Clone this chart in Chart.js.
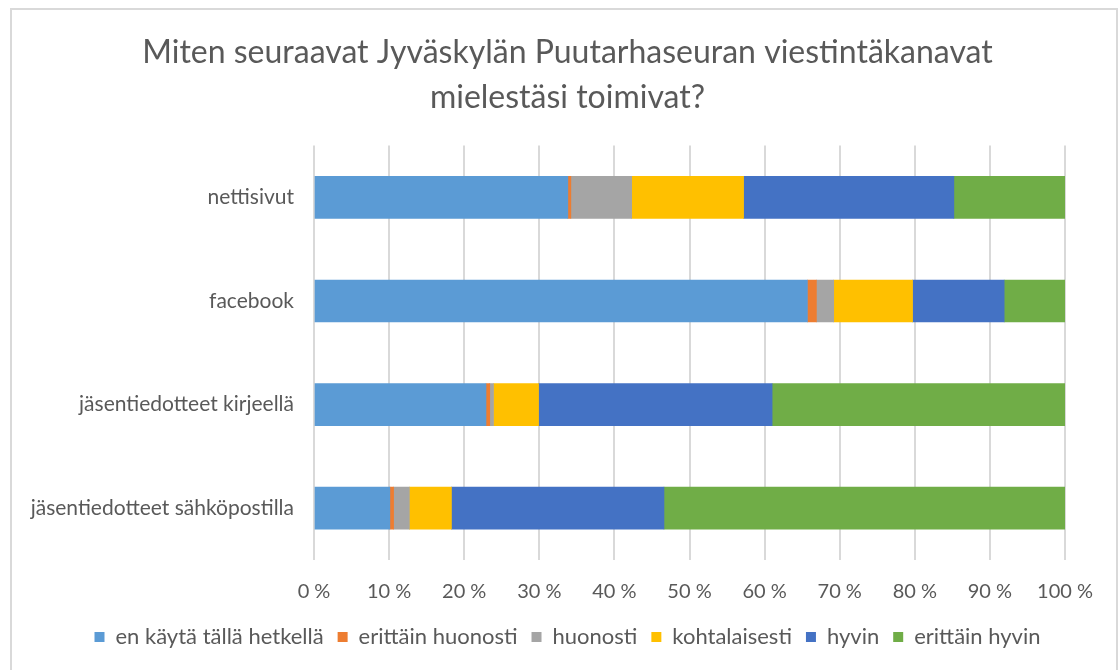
<!DOCTYPE html>
<html>
<head>
<meta charset="utf-8">
<script src="https://cdn.jsdelivr.net/npm/chart.js@4"></script>
<style>
  html, body { margin: 0; padding: 0; background: #fff; }
  #frame {
    position: absolute; left: 10px; top: 8px; width: 1108px; height: 680px;
    border: 2px solid #d9d9d9; border-bottom: none; box-sizing: border-box;
  }
  #wrap { position: absolute; left: 0; top: 0; width: 1120px; height: 670px; }
</style>
</head>
<body>
<div id="frame"></div>
<div id="wrap"><canvas id="chart"></canvas></div>
<script>
// channels, top to bottom
const channels = ['nettisivut', 'facebook', 'jäsentiedotteet kirjeellä', 'jäsentiedotteet sähköpostilla'];

// share of answers (%) per rating, same order as channels
const enKayta       = [33.8, 65.7, 22.9, 10.1];
const erittHuono    = [0.4, 1.2, 0.5, 0.5];
const huonosti      = [8.1, 2.3, 0.5, 2.1];
const kohtalaisesti = [14.9, 10.5, 6.0, 5.6];
const hyvin         = [28.0, 12.2, 31.1, 28.3];
const erittHyvin    = [14.8, 8.1, 39.0, 53.4];

const seriesNames = ['en käytä tällä hetkellä', 'erittäin huonosti', 'huonosti', 'kohtalaisesti', 'hyvin', 'erittäin hyvin'];
const seriesData = [enKayta, erittHuono, huonosti, kohtalaisesti, hyvin, erittHyvin];
const colors = ['#5B9BD5', '#ED7D31', '#A5A5A5', '#FFC000', '#4472C4', '#70AD47'];

const textColor = '#595959';
const fontFamily = 'Lato, "Open Sans", sans-serif';

const datasets = seriesNames.map((name, i) => ({
  label: name,
  data: seriesData[i],
  backgroundColor: colors[i],
  borderWidth: 0,
  barThickness: 42
}));

new Chart(document.getElementById('chart'), {
  type: 'bar',
  data: { labels: channels, datasets: datasets },
  options: {
    indexAxis: 'y',
    responsive: true,
    maintainAspectRatio: false,
    animation: false,
    layout: { padding: { left: 30, right: 15, top: 30, bottom: 12 } },
    scales: {
      x: {
        stacked: true,
        min: 0,
        max: 100,
        ticks: {
          stepSize: 10,
          color: textColor,
          font: { family: fontFamily, size: 20 },
          padding: 20,
          callback: v => v + ' %'
        },
        grid: { color: '#d9d9d9', lineWidth: 2, drawTicks: false },
        border: { display: false },
        afterFit: scale => { scale.height = 52; }
      },
      y: {
        stacked: true,
        ticks: {
          color: textColor,
          font: { family: fontFamily, size: 21 },
          padding: 20
        },
        grid: { display: false, drawTicks: false },
        border: { display: false },
        afterFit: scale => { scale.width = 284; }
      },
      // empty spacer on the right so the plot sits off-centre like the original
      spacer: {
        type: 'category',
        position: 'right',
        display: true,
        ticks: { display: false },
        grid: { display: false, drawTicks: false },
        border: { display: false },
        afterFit: scale => { scale.width = 40; }
      }
    },
    plugins: {
      title: {
        display: true,
        text: ['Miten seuraavat Jyväskylän Puutarhaseuran viestintäkanavat', 'mielestäsi toimivat?'],
        color: textColor,
        font: { family: fontFamily, size: 32, weight: 'normal', lineHeight: 1.4 },
        padding: { top: 0, bottom: 26 }
      },
      legend: {
        position: 'bottom',
        labels: {
          color: textColor,
          font: { family: fontFamily, size: 22 },
          boxWidth: 10,
          boxHeight: 10,
          padding: 14
        }
      },
      tooltip: { enabled: false }
    }
  }
});
</script>
</body>
</html>
